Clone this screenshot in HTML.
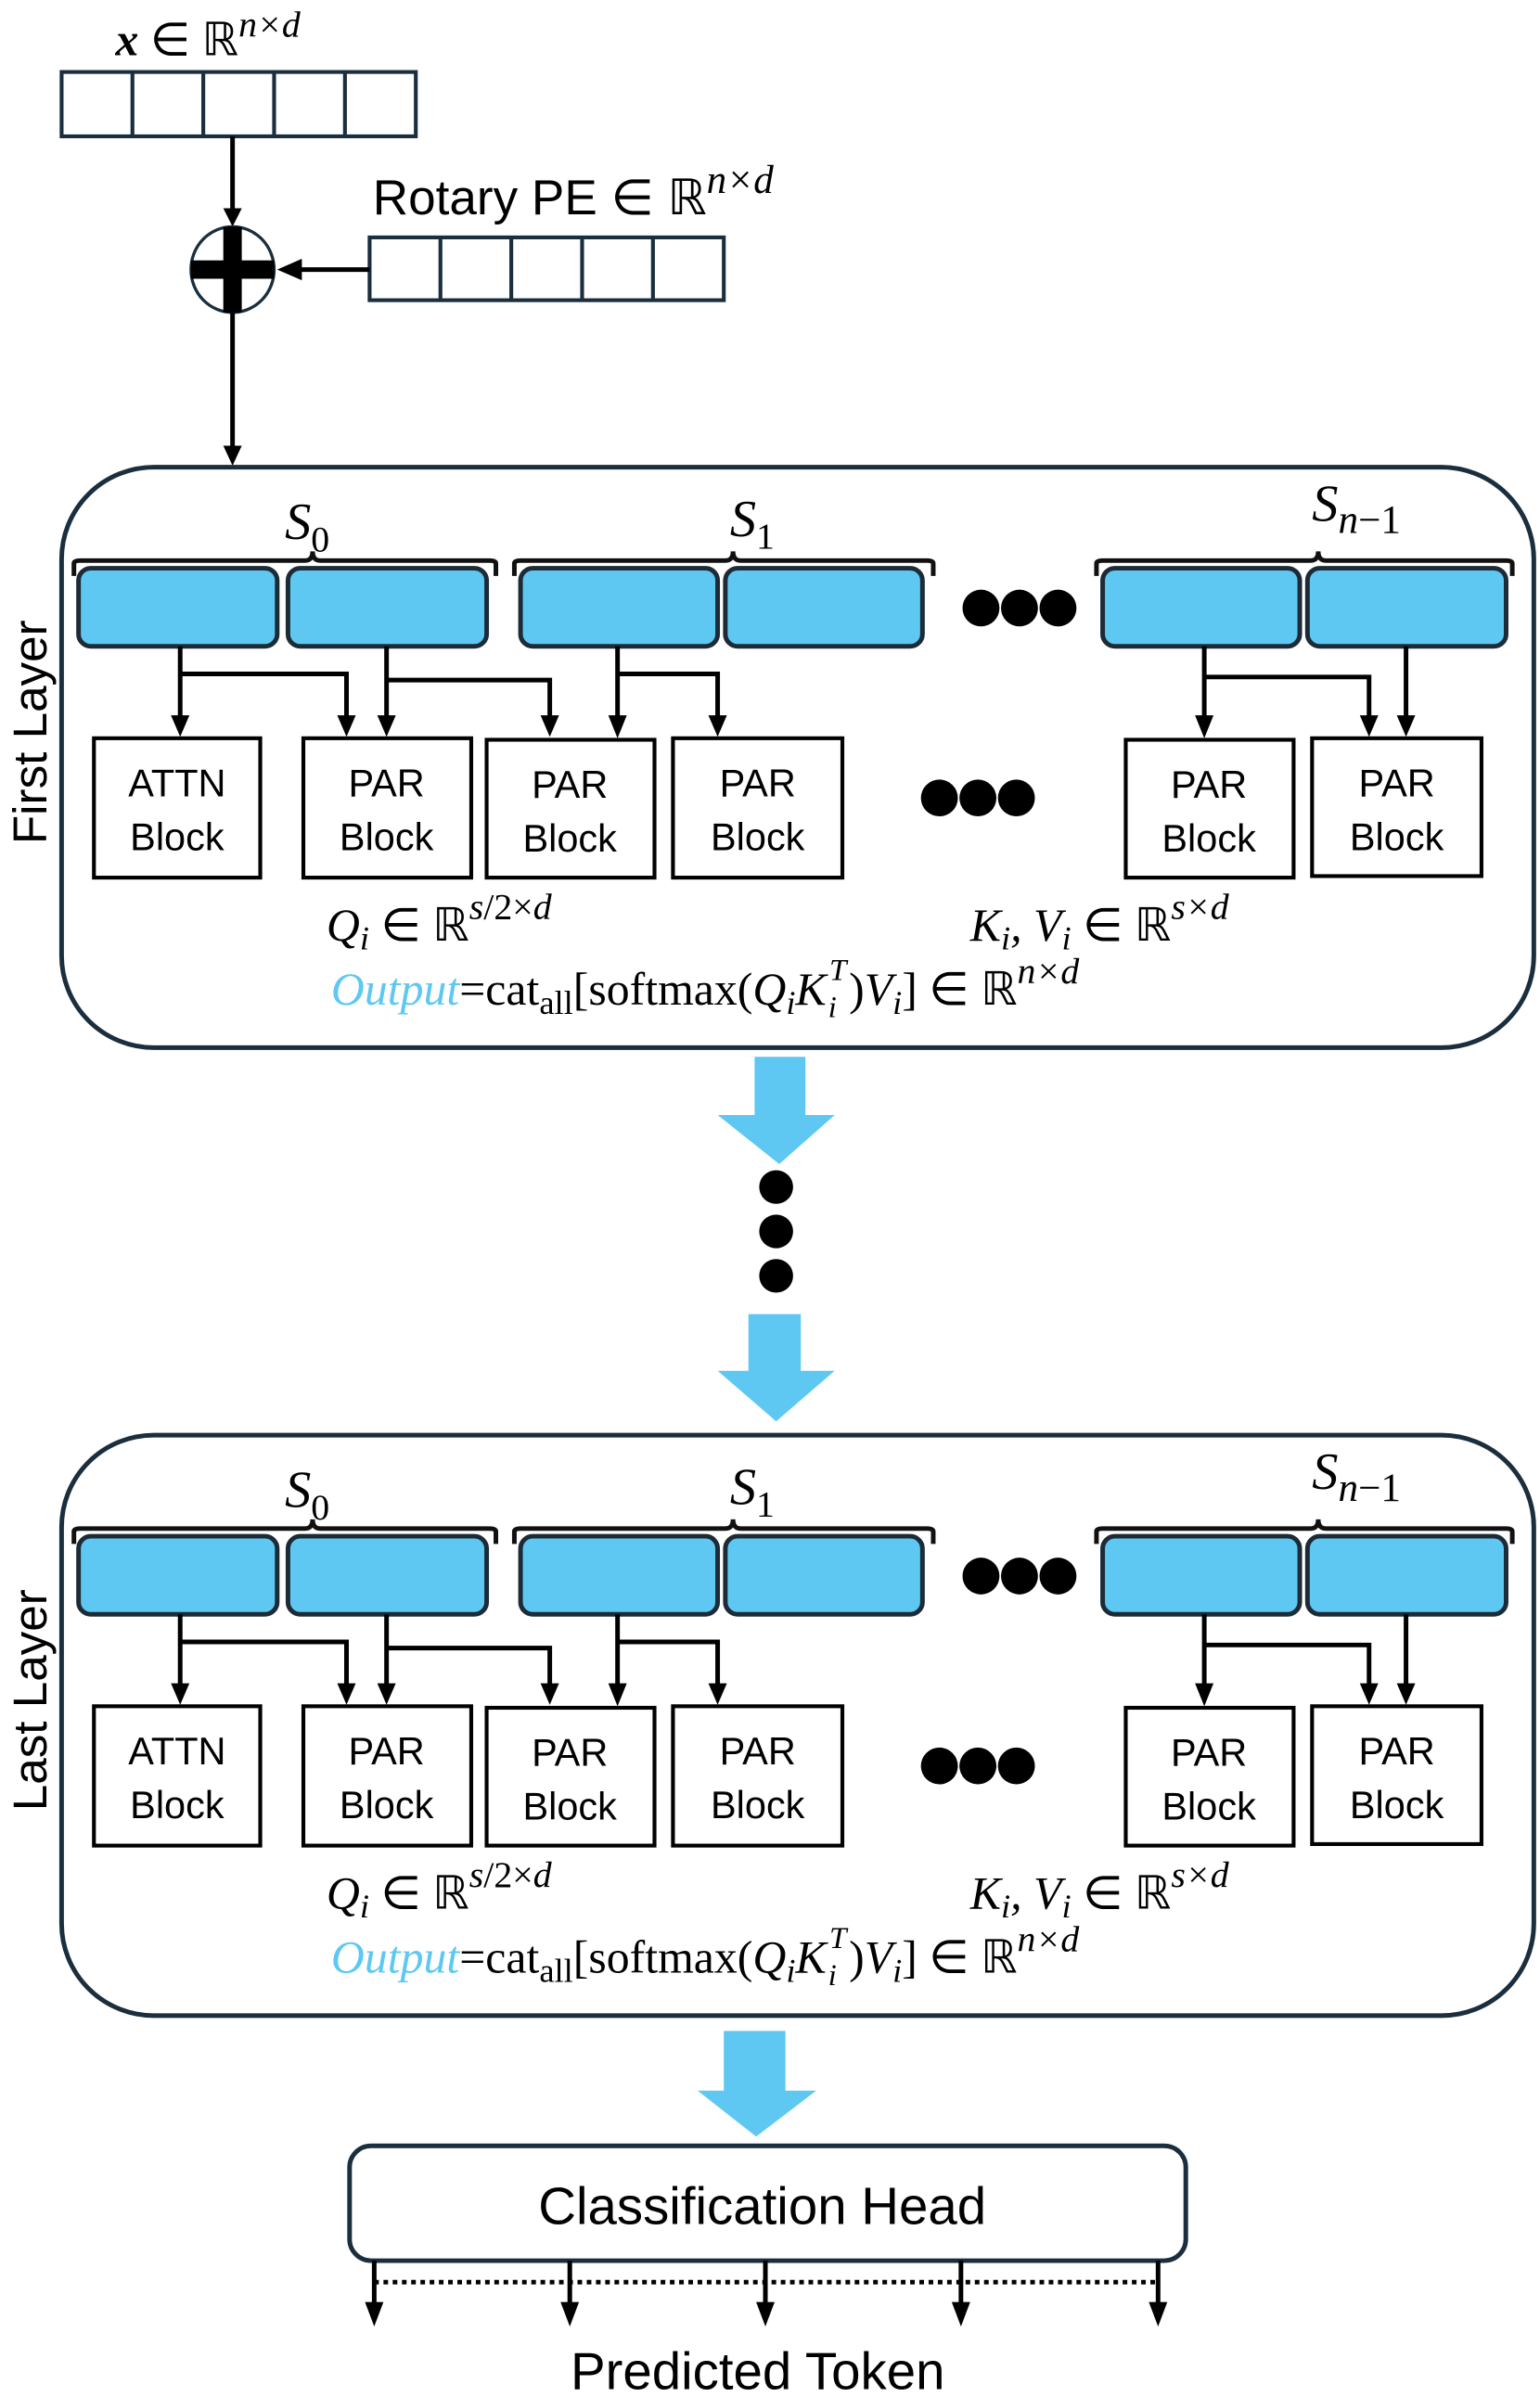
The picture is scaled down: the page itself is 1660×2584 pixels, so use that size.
<!DOCTYPE html>
<html><head><meta charset="utf-8"><style>
html,body{margin:0;padding:0;background:#fff;}
svg{display:block;}
.sans{font-family:"Liberation Sans",sans-serif;}
.m{font-family:"Liberation Serif",serif;font-style:italic;}
.r{font-family:"Liberation Serif",serif;}
</style></head><body>
<svg width="1660" height="2584" viewBox="0 0 1000 1565" preserveAspectRatio="none" xmlns="http://www.w3.org/2000/svg">

<!-- x input -->
<text x="75" y="36" class="r" font-size="30"><tspan font-weight="bold" font-style="italic">x</tspan> ∈ ℝ<tspan class="m" font-size="24" dy="-12">n×d</tspan></text>
<g fill="none" stroke="#1a2e3e" stroke-width="2.5">
<rect x="40" y="47" width="230" height="42"/>
<line x1="86" y1="47" x2="86" y2="89"/><line x1="132" y1="47" x2="132" y2="89"/><line x1="178" y1="47" x2="178" y2="89"/><line x1="224" y1="47" x2="224" y2="89"/>
<rect x="240" y="155" width="230" height="41"/>
<line x1="286" y1="155" x2="286" y2="196"/><line x1="332" y1="155" x2="332" y2="196"/><line x1="378" y1="155" x2="378" y2="196"/><line x1="424" y1="155" x2="424" y2="196"/>
</g>
<text x="242" y="140" class="sans" font-size="32">Rotary PE ∈ ℝ<tspan class="m" font-size="26" dy="-14">n×d</tspan></text>
<line x1="151" y1="89" x2="151" y2="138" stroke="#000" stroke-width="3"/>
<path d="M145,136 L157,136 L151,148 Z" fill="#000"/>
<ellipse cx="151" cy="176" rx="27" ry="28" fill="#fff" stroke="#1a2e3e" stroke-width="2"/>
<rect x="145" y="148" width="12" height="56" fill="#000"/>
<rect x="124" y="170" width="54" height="12" fill="#000"/>
<line x1="240" y1="176" x2="192" y2="176" stroke="#000" stroke-width="3"/>
<path d="M196,169 L196,183 L180,176 Z" fill="#000"/>
<line x1="151" y1="204" x2="151" y2="294" stroke="#000" stroke-width="3"/>
<path d="M145,291 L157,291 L151,304 Z" fill="#000"/>

<!-- Layer 1 -->
<g>
<rect x="40" y="305" width="956" height="379" rx="60" fill="none" stroke="#1a2e3e" stroke-width="3"/>
<g fill="none" stroke="#111" stroke-width="3">
<path d="M48,376 V368 Q48,366 52,366 H198 Q203,366 203,360 Q203,366 208,366 H318 Q322,366 322,368 V376"/>
<path d="M334,376 V368 Q334,366 338,366 H471 Q476,366 476,360 Q476,366 481,366 H602 Q606,366 606,368 V376"/>
<path d="M712,376 V368 Q712,366 716,366 H851 Q856,366 856,360 Q856,366 861,366 H978 Q982,366 982,368 V376"/>
</g>
<text x="185" y="352" class="m" font-size="34">S<tspan class="r" font-style="normal" font-size="24" dy="8">0</tspan></text>
<text x="474" y="350" class="m" font-size="34">S<tspan class="r" font-style="normal" font-size="24" dy="8">1</tspan></text>
<text x="852" y="340" class="m" font-size="34">S<tspan font-size="26" dy="8">n</tspan><tspan class="r" font-style="normal" font-size="26">−1</tspan></text>
<g fill="#5ec8f2" stroke="#1c2b36" stroke-width="3">
<rect x="51" y="371" width="129" height="51" rx="8"/>
<rect x="187" y="371" width="129" height="51" rx="8"/>
<rect x="338" y="371" width="128" height="51" rx="8"/>
<rect x="471" y="371" width="128" height="51" rx="8"/>
<rect x="716" y="371" width="128" height="51" rx="8"/>
<rect x="849" y="371" width="129" height="51" rx="8"/>
</g>
<g fill="#000">
<circle cx="637" cy="397" r="12"/><circle cx="662" cy="397" r="12"/><circle cx="687" cy="397" r="12"/>
<circle cx="610" cy="521" r="12"/><circle cx="635" cy="521" r="12"/><circle cx="660" cy="521" r="12"/>
</g>
<g fill="none" stroke="#000" stroke-width="3">
<line x1="117" y1="422" x2="117" y2="470"/>
<polyline points="117,440 225,440 225,470"/>
<line x1="251" y1="422" x2="251" y2="470"/>
<polyline points="251,444 357,444 357,470"/>
<line x1="401" y1="422" x2="401" y2="470"/>
<polyline points="401,440 466,440 466,470"/>
<line x1="782" y1="422" x2="782" y2="470"/>
<polyline points="782,442 889,442 889,470"/>
<line x1="913" y1="422" x2="913" y2="470"/>
</g>
<g fill="#000">
<path d="M111,467 L123,467 L117,481 Z"/><path d="M219,467 L231,467 L225,481 Z"/>
<path d="M245,467 L257,467 L251,481 Z"/><path d="M351,467 L363,467 L357,481 Z"/>
<path d="M395,467 L407,467 L401,482 Z"/><path d="M460,467 L472,467 L466,481 Z"/>
<path d="M776,467 L788,467 L782,482 Z"/><path d="M883,467 L895,467 L889,481 Z"/>
<path d="M907,467 L919,467 L913,481 Z"/>
</g>
<g fill="#fff" stroke="#000" stroke-width="2.5">
<rect x="61" y="482" width="108" height="91"/>
<rect x="197" y="482" width="109" height="91"/>
<rect x="316" y="483" width="109" height="90"/>
<rect x="437" y="482" width="110" height="91"/>
<rect x="731" y="483" width="109" height="90"/>
<rect x="852" y="482" width="110" height="90"/>
</g>
<g class="sans" font-size="25" text-anchor="middle">
<text x="115" y="520">ATTN</text><text x="115" y="555">Block</text>
<text x="251" y="520">PAR</text><text x="251" y="555">Block</text>
<text x="370" y="521">PAR</text><text x="370" y="556">Block</text>
<text x="492" y="520">PAR</text><text x="492" y="555">Block</text>
<text x="785" y="521">PAR</text><text x="785" y="556">Block</text>
<text x="907" y="520">PAR</text><text x="907" y="555">Block</text>
</g>
<text x="212" y="614" class="m" font-size="30">Q<tspan font-size="22" dy="6">i</tspan><tspan class="r" font-style="normal" dy="-6"> ∈ ℝ</tspan><tspan font-size="24" dy="-14">s</tspan><tspan class="r" font-style="normal" font-size="24">/2×</tspan><tspan font-size="24">d</tspan></text>
<text x="630" y="614" class="m" font-size="30">K<tspan font-size="22" dy="6">i</tspan><tspan dy="-6">, V</tspan><tspan font-size="22" dy="6">i</tspan><tspan class="r" font-style="normal" dy="-6"> ∈ ℝ</tspan><tspan font-size="24" dy="-14">s×d</tspan></text>
<text x="215" y="656" class="r" font-size="30"><tspan class="m" fill="#5ec8f2">Output</tspan>=cat<tspan font-size="22" dy="6">all</tspan><tspan dy="-6">[softmax(</tspan><tspan class="m">Q</tspan><tspan class="m" font-size="22" dy="6">i</tspan><tspan class="m" dy="-6">K</tspan><tspan class="m" font-size="20" dy="-16" dx="2">T</tspan><tspan class="m" font-size="20" dx="-12" dy="24">i</tspan><tspan dy="-8" dx="8">)</tspan><tspan class="m">V</tspan><tspan class="m" font-size="22" dy="6">i</tspan><tspan dy="-6">] ∈ ℝ</tspan><tspan class="m" font-size="24" dy="-14">n×d</tspan></text>
</g>
<text transform="translate(30,478) rotate(-90)" class="sans" font-size="31" text-anchor="middle">First Layer</text>

<!-- Big arrows + dots -->
<g fill="#5ec8f2">
<path d="M490,690 H523 V728 H542 L506,760 L466,728 H490 Z"/>
<path d="M486,858 H520 V895 H542 L504,928 L466,895 H486 Z"/>
<path d="M470,1326 H510 V1365 H530 L491,1395 L453,1365 H470 Z"/>
</g>
<g fill="#000"><circle cx="504" cy="775" r="11"/><circle cx="504" cy="804" r="11"/><circle cx="504" cy="833" r="11"/></g>

<!-- Layer 2 -->
<g transform="translate(0,632)">
<rect x="40" y="305" width="956" height="379" rx="60" fill="none" stroke="#1a2e3e" stroke-width="3"/>
<g fill="none" stroke="#111" stroke-width="3">
<path d="M48,376 V368 Q48,366 52,366 H198 Q203,366 203,360 Q203,366 208,366 H318 Q322,366 322,368 V376"/>
<path d="M334,376 V368 Q334,366 338,366 H471 Q476,366 476,360 Q476,366 481,366 H602 Q606,366 606,368 V376"/>
<path d="M712,376 V368 Q712,366 716,366 H851 Q856,366 856,360 Q856,366 861,366 H978 Q982,366 982,368 V376"/>
</g>
<text x="185" y="352" class="m" font-size="34">S<tspan class="r" font-style="normal" font-size="24" dy="8">0</tspan></text>
<text x="474" y="350" class="m" font-size="34">S<tspan class="r" font-style="normal" font-size="24" dy="8">1</tspan></text>
<text x="852" y="340" class="m" font-size="34">S<tspan font-size="26" dy="8">n</tspan><tspan class="r" font-style="normal" font-size="26">−1</tspan></text>
<g fill="#5ec8f2" stroke="#1c2b36" stroke-width="3">
<rect x="51" y="371" width="129" height="51" rx="8"/>
<rect x="187" y="371" width="129" height="51" rx="8"/>
<rect x="338" y="371" width="128" height="51" rx="8"/>
<rect x="471" y="371" width="128" height="51" rx="8"/>
<rect x="716" y="371" width="128" height="51" rx="8"/>
<rect x="849" y="371" width="129" height="51" rx="8"/>
</g>
<g fill="#000">
<circle cx="637" cy="397" r="12"/><circle cx="662" cy="397" r="12"/><circle cx="687" cy="397" r="12"/>
<circle cx="610" cy="521" r="12"/><circle cx="635" cy="521" r="12"/><circle cx="660" cy="521" r="12"/>
</g>
<g fill="none" stroke="#000" stroke-width="3">
<line x1="117" y1="422" x2="117" y2="470"/>
<polyline points="117,440 225,440 225,470"/>
<line x1="251" y1="422" x2="251" y2="470"/>
<polyline points="251,444 357,444 357,470"/>
<line x1="401" y1="422" x2="401" y2="470"/>
<polyline points="401,440 466,440 466,470"/>
<line x1="782" y1="422" x2="782" y2="470"/>
<polyline points="782,442 889,442 889,470"/>
<line x1="913" y1="422" x2="913" y2="470"/>
</g>
<g fill="#000">
<path d="M111,467 L123,467 L117,481 Z"/><path d="M219,467 L231,467 L225,481 Z"/>
<path d="M245,467 L257,467 L251,481 Z"/><path d="M351,467 L363,467 L357,481 Z"/>
<path d="M395,467 L407,467 L401,482 Z"/><path d="M460,467 L472,467 L466,481 Z"/>
<path d="M776,467 L788,467 L782,482 Z"/><path d="M883,467 L895,467 L889,481 Z"/>
<path d="M907,467 L919,467 L913,481 Z"/>
</g>
<g fill="#fff" stroke="#000" stroke-width="2.5">
<rect x="61" y="482" width="108" height="91"/>
<rect x="197" y="482" width="109" height="91"/>
<rect x="316" y="483" width="109" height="90"/>
<rect x="437" y="482" width="110" height="91"/>
<rect x="731" y="483" width="109" height="90"/>
<rect x="852" y="482" width="110" height="90"/>
</g>
<g class="sans" font-size="25" text-anchor="middle">
<text x="115" y="520">ATTN</text><text x="115" y="555">Block</text>
<text x="251" y="520">PAR</text><text x="251" y="555">Block</text>
<text x="370" y="521">PAR</text><text x="370" y="556">Block</text>
<text x="492" y="520">PAR</text><text x="492" y="555">Block</text>
<text x="785" y="521">PAR</text><text x="785" y="556">Block</text>
<text x="907" y="520">PAR</text><text x="907" y="555">Block</text>
</g>
<text x="212" y="614" class="m" font-size="30">Q<tspan font-size="22" dy="6">i</tspan><tspan class="r" font-style="normal" dy="-6"> ∈ ℝ</tspan><tspan font-size="24" dy="-14">s</tspan><tspan class="r" font-style="normal" font-size="24">/2×</tspan><tspan font-size="24">d</tspan></text>
<text x="630" y="614" class="m" font-size="30">K<tspan font-size="22" dy="6">i</tspan><tspan dy="-6">, V</tspan><tspan font-size="22" dy="6">i</tspan><tspan class="r" font-style="normal" dy="-6"> ∈ ℝ</tspan><tspan font-size="24" dy="-14">s×d</tspan></text>
<text x="215" y="656" class="r" font-size="30"><tspan class="m" fill="#5ec8f2">Output</tspan>=cat<tspan font-size="22" dy="6">all</tspan><tspan dy="-6">[softmax(</tspan><tspan class="m">Q</tspan><tspan class="m" font-size="22" dy="6">i</tspan><tspan class="m" dy="-6">K</tspan><tspan class="m" font-size="20" dy="-16" dx="2">T</tspan><tspan class="m" font-size="20" dx="-12" dy="24">i</tspan><tspan dy="-8" dx="8">)</tspan><tspan class="m">V</tspan><tspan class="m" font-size="22" dy="6">i</tspan><tspan dy="-6">] ∈ ℝ</tspan><tspan class="m" font-size="24" dy="-14">n×d</tspan></text>
</g>
<text transform="translate(30,1110) rotate(-90)" class="sans" font-size="31" text-anchor="middle">Last Layer</text>

<!-- Classification head -->
<rect x="227" y="1401" width="543" height="75" rx="14" fill="#fff" stroke="#1a2e3e" stroke-width="3"/>
<text x="495" y="1452" class="sans" font-size="34" text-anchor="middle">Classification Head</text>
<line x1="243" y1="1490" x2="752" y2="1490" stroke="#000" stroke-width="3" stroke-dasharray="3,3"/>
<g stroke="#000" stroke-width="3">
<line x1="243" y1="1476" x2="243" y2="1506"/>
<line x1="370" y1="1476" x2="370" y2="1506"/>
<line x1="497" y1="1476" x2="497" y2="1506"/>
<line x1="624" y1="1476" x2="624" y2="1506"/>
<line x1="752" y1="1476" x2="752" y2="1506"/>
</g>
<g fill="#000">
<path d="M237,1503 L249,1503 L243,1519 Z"/><path d="M364,1503 L376,1503 L370,1519 Z"/>
<path d="M491,1503 L503,1503 L497,1519 Z"/><path d="M618,1503 L630,1503 L624,1519 Z"/>
<path d="M746,1503 L758,1503 L752,1519 Z"/>
</g>
<text x="492" y="1560" class="sans" font-size="34" text-anchor="middle">Predicted Token</text>
</svg>
</body></html>
